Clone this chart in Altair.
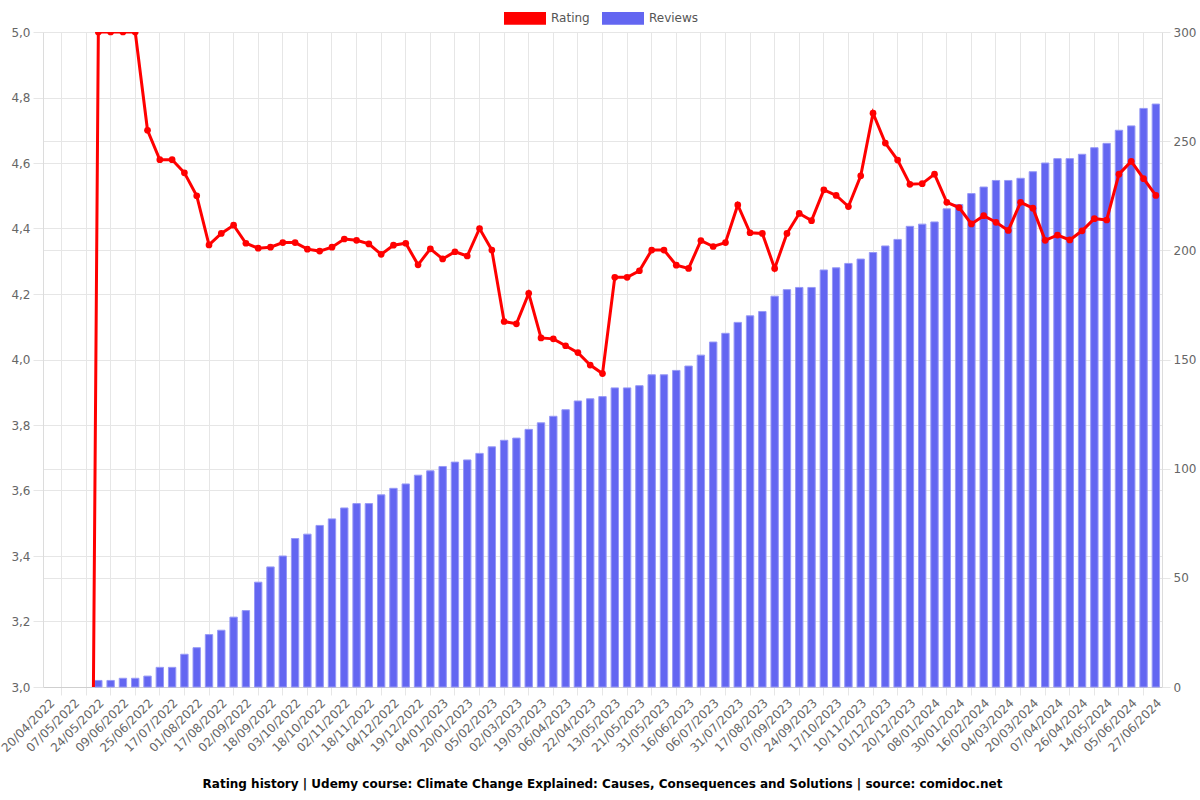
import altair as alt
import pandas as pd

date_labels = [
    "20/04/2022", "07/05/2022", "24/05/2022", "09/06/2022", "25/06/2022", "17/07/2022",
    "01/08/2022", "17/08/2022", "02/09/2022", "18/09/2022", "03/10/2022", "18/10/2022",
    "02/11/2022", "18/11/2022", "04/12/2022", "19/12/2022", "04/01/2023", "20/01/2023",
    "05/02/2023", "02/03/2023", "19/03/2023", "06/04/2023", "22/04/2023", "13/05/2023",
    "21/05/2023", "31/05/2023", "16/06/2023", "06/07/2023", "31/07/2023", "17/08/2023",
    "07/09/2023", "24/09/2023", "17/10/2023", "10/11/2023", "01/12/2023", "20/12/2023",
    "08/01/2024", "30/01/2024", "16/02/2024", "04/03/2024", "20/03/2024", "07/04/2024",
    "26/04/2024", "14/05/2024", "05/06/2024", "27/06/2024",
]

rating = [
    0, 0, 0, 0, 5.0, 5.0, 5.0, 5.0, 4.70, 4.61,
    4.61, 4.57, 4.50, 4.35, 4.385, 4.41, 4.355, 4.34, 4.343, 4.357,
    4.357, 4.337, 4.331, 4.343, 4.368, 4.364, 4.353, 4.321, 4.349, 4.355,
    4.289, 4.338, 4.307, 4.329, 4.316, 4.40, 4.334, 4.116, 4.109, 4.202,
    4.066, 4.063, 4.042, 4.021, 3.983, 3.957, 4.251, 4.251, 4.271, 4.334,
    4.334, 4.288, 4.278, 4.363, 4.345, 4.357, 4.472, 4.387, 4.385, 4.278,
    4.385, 4.446, 4.424, 4.518, 4.501, 4.467, 4.561, 4.752, 4.661, 4.609,
    4.535, 4.537, 4.566, 4.480, 4.464, 4.414, 4.439, 4.419, 4.394, 4.480,
    4.462, 4.364, 4.380, 4.365, 4.393, 4.430, 4.426, 4.566, 4.605, 4.552,
    4.501,
]

reviews = [
    0, 0, 0, 0, 3, 3, 4, 4, 5, 9,
    9, 15, 18, 24, 26, 32, 35, 48, 55, 60,
    68, 70, 74, 77, 82, 84, 84, 88, 91, 93,
    97, 99, 101, 103, 104, 107, 110, 113, 114, 118,
    121, 124, 127, 131, 132, 133, 137, 137, 138, 143,
    143, 145, 147, 152, 158, 162, 167, 170, 172, 179,
    182, 183, 183, 191, 192, 194, 196, 199, 202, 205,
    211, 212, 213, 219, 221, 226, 229, 232, 232, 233,
    236, 240, 242, 242, 244, 247, 249, 255, 257, 265,
    267,
]

rating_ticks = [3.0, 3.2, 3.4, 3.6, 3.8, 4.0, 4.2, 4.4, 4.6, 4.8, 5.0]
review_ticks = [0, 50, 100, 150, 200, 250, 300]
series_names = ["Rating", "Reviews"]
series_colors = ["#ff0000", "#6366f1"]

n = len(rating)
df = pd.DataFrame({"idx": list(range(n)), "Rating": rating, "Reviews": reviews})

labels_js = "[" + ",".join("'" + d + "'" for d in date_labels) + "]"
FONT = "DejaVu Sans"
GRID = "#e6e6e6"

odd_cond = {"condition": {"test": "datum.value % 2 == 1", "value": 1}, "value": 0}

x_enc = alt.X(
    "idx:O",
    scale=alt.Scale(paddingInner=0.4, paddingOuter=0.2),
    axis=alt.Axis(
        title=None,
        values=list(range(n)),
        labelExpr="datum.value % 2 == 0 ? " + labels_js + "[datum.value / 2] : ''",
        labelAngle=-45,
        labelAlign="right",
        labelBaseline="top",
        labelOverlap=False,
        labelFont=FONT,
        labelFontSize=12,
        labelColor="#666666",
        labelPadding=2,
        grid=True,
        gridColor=GRID,
        gridOpacity=odd_cond,
        tickColor=GRID,
        tickOpacity=odd_cond,
        tickSize=8,
        domainColor="#cfcfcf",
    ),
)

color_scale = alt.Scale(domain=series_names, range=series_colors)
legend = alt.Legend(
    orient="none",
    legendX=461,
    legendY=-35,
    direction="horizontal",
    title=None,
    symbolType="M-1,-0.3L1,-0.3L1,0.3L-1,0.3Z",
    symbolSize=1764,
    symbolStrokeWidth=0,
    symbolOpacity=1,
    labelFont=FONT,
    labelFontSize=12,
    labelColor="#555555",
    labelOffset=5,
    columnPadding=12,
    padding=0,
)

bars = alt.Chart(df).transform_filter("datum.Reviews > 0").mark_bar(
    stroke="#9799f6", strokeWidth=1
).encode(
    x=x_enc,
    y=alt.Y(
        "Reviews:Q",
        scale=alt.Scale(domain=[0, 300], nice=False),
        axis=alt.Axis(
            orient="right",
            title=None,
            values=review_ticks,
            labelFont=FONT,
            labelFontSize=12,
            labelColor="#666666",
            grid=True,
            gridColor=GRID,
            tickColor=GRID,
            tickSize=8,
            labelPadding=3,
            domainColor="#dcdcdc",
        ),
    ),
    color=alt.Color("series:N", scale=color_scale, legend=legend),
).transform_calculate(series="'Reviews'")

y_rating = alt.Y(
    "Rating:Q",
    scale=alt.Scale(domain=[3, 5], nice=False, zero=False),
    axis=alt.Axis(
        orient="left",
        title=None,
        values=rating_ticks,
        labelExpr="replace(format(datum.value, '.1f'), '.', ',')",
        labelFont=FONT,
        labelFontSize=12,
        labelColor="#666666",
        grid=True,
        gridColor=GRID,
        tickColor=GRID,
        tickSize=10,
        labelPadding=3,
        domainColor="#dcdcdc",
    ),
)

line = alt.Chart(df).mark_line(color="#ff0000", strokeWidth=3, clip=True).encode(
    x=x_enc, y=y_rating
)
points = alt.Chart(df).mark_point(filled=True, size=45, opacity=1, clip=True).encode(
    x=x_enc,
    y=y_rating,
    color=alt.Color("series:N", scale=color_scale, legend=legend),
).transform_calculate(series="'Rating'")

rating_layer = alt.layer(line, points)

chart = (
    alt.layer(bars, rating_layer)
    .resolve_scale(y="independent")
    .properties(
        width=1119,
        height=655,
        padding={"left": 43, "top": 32, "right": 38, "bottom": 113},
        autosize=alt.AutoSizeParams(type="none"),
        title=alt.Title(
            text="Rating history | Udemy course: Climate Change Explained: Causes, Consequences and Solutions | source: comidoc.net",
            orient="bottom",
            anchor="middle",
            font=FONT,
            fontSize=12,
            fontWeight="bold",
            color="#000000",
            offset=25,
        ),
    )
    .configure_view(stroke=None)
)

chart.save("out.html", embed_options={"renderer": "svg", "actions": False})
